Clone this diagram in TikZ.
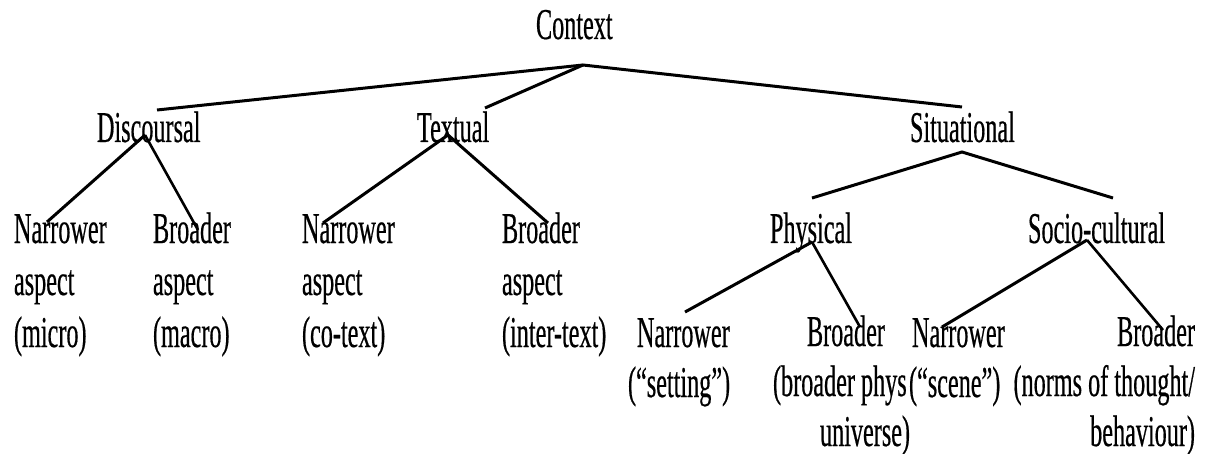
\documentclass[tikz,border=0pt]{standalone}
\usepackage{fontspec}
\setmainfont[FakeStretch=0.55,FakeBold=0.4]{Liberation Serif}
\begin{document}
\begin{tikzpicture}[x=1pt,y=-1pt,
  lbl/.style={inner sep=0pt, outer sep=0pt, font=\fontsize{44}{52}\selectfont, anchor=base west},
  multi/.style={lbl, align=left},
  lowmulti/.style={multi, font=\fontsize{44}{50}\selectfont},
  lowmultir/.style={inner sep=0pt, outer sep=0pt, font=\fontsize{44}{50}\selectfont, anchor=base east, align=right},
  edge/.style={line width=3pt, draw=black},
  thinedge/.style={line width=2.6pt, draw=black}]
\useasboundingbox[fill=white] (0,0) rectangle (1214,454);

% labels (multi-line nodes are placed by the baseline of their last line)
\node[lbl] (ctx) at (536,39) {Context};
\node[lbl] (disc) at (97,142) {Discoursal};
\node[lbl] (text) at (417,142) {Textual};
\node[lbl] (sit) at (910,142) {Situational};
\node[lbl] (phys) at (770,243) {Physical};
\node[lbl] (soc) at (1028,243) {Socio-cultural};

\node[multi] (dn) at (14,347) {Narrower\\aspect\\(micro)};
\node[multi] (db) at (153,347) {Broader\\aspect\\(macro)};
\node[multi] (tn) at (302,347) {Narrower\\aspect\\(co-text)};
\node[multi] (tb) at (502,347) {Broader\\aspect\\(inter-text)};
\node[lowmulti] (pn) at (628,397) {\hspace*{9pt}Narrower\\(“setting”)};
\node[lowmulti] (pb) at (773,446) {\hspace*{34pt}Broader\\(broader phys\\\hspace*{47pt}universe)};
\node[lowmulti] (sn) at (909,397) {\hspace*{3pt}Narrower\\(“scene”)};
\node[lowmultir] (sb) at (1195,446) {Broader\\(norms of thought/\\behaviour)};

% connector ends
\coordinate (ctx-a) at (583,65);
\coordinate (disc-t) at (157,110);
\coordinate (text-t) at (485,108);
\coordinate (sit-t) at (962,107);
\coordinate (disc-a) at (145,135);
\coordinate (dn-t) at (47,222);
\coordinate (db-t) at (198,230);
\coordinate (text-a) at (448,135);
\coordinate (tn-t) at (323,223);
\coordinate (tb-t) at (548,223);
\coordinate (sit-a) at (962,152);
\coordinate (phys-t) at (812,198);
\coordinate (soc-t) at (1113,198);
\coordinate (phys-a) at (812,242);
\coordinate (pn-t) at (685,312);
\coordinate (pb-t) at (860,327);
\coordinate (soc-a) at (1087,240);
\coordinate (sn-t) at (942,327);
\coordinate (sb-t) at (1163,330);

% connectors
\draw[edge] (disc-t) -- (ctx-a) -- (sit-t);
\draw[edge] (ctx-a) -- (text-t);
\draw[edge] (dn-t) -- (disc-a);
\draw[thinedge] (disc-a) -- (db-t);
\draw[edge] (tn-t) -- (text-a) -- (tb-t);
\draw[edge] (phys-t) -- (sit-a) -- (soc-t);
\draw[edge] (pn-t) -- (phys-a);
\draw[thinedge] (phys-a) -- (pb-t);
\draw[edge] (sn-t) -- (soc-a);
\draw[thinedge] (soc-a) -- (sb-t);
\end{tikzpicture}
\end{document}
